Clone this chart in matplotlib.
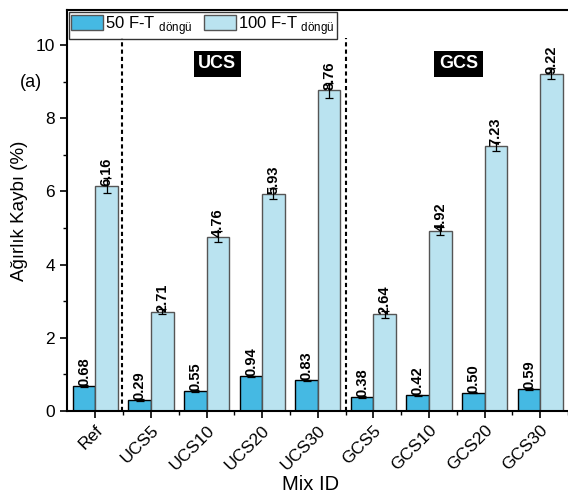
import matplotlib
matplotlib.use('Agg')
import matplotlib.pyplot as plt
import numpy as np
from matplotlib.ticker import MultipleLocator
from matplotlib.patches import Patch

plt.rcParams['font.family'] = ['Liberation Sans', 'DejaVu Sans']
plt.rcParams['mathtext.fontset'] = 'custom'
plt.rcParams['mathtext.rm'] = 'Liberation Sans'

mixes = ['Ref', 'UCS5', 'UCS10', 'UCS20', 'UCS30', 'GCS5', 'GCS10', 'GCS20', 'GCS30']
loss_50 = [0.68, 0.29, 0.55, 0.94, 0.83, 0.38, 0.42, 0.50, 0.59]
err_50 = [0.03, 0.02, 0.03, 0.02, 0.02, 0.02, 0.02, 0.02, 0.03]
loss_100 = [6.16, 2.71, 4.76, 5.93, 8.76, 2.64, 4.92, 7.23, 9.22]
err_100 = [0.20, 0.07, 0.15, 0.15, 0.20, 0.10, 0.10, 0.12, 0.15]

dark = '#45b9e3'
light = '#bae3f0'

fig = plt.figure(figsize=(5.68, 5.01), dpi=100)
ax = fig.add_axes([0.118, 0.18, 0.882, 0.80])

x = np.arange(len(mixes))
w = 0.405
ax.bar(x - w / 2, loss_50, w, color=dark, edgecolor='black', linewidth=1.0,
       yerr=err_50, error_kw=dict(ecolor='black', elinewidth=0.9, capsize=3, capthick=0.9))
ax.bar(x + w / 2, loss_100, w, color=light, edgecolor='#555555', linewidth=1.0,
       yerr=err_100, error_kw=dict(ecolor='black', elinewidth=0.9, capsize=3, capthick=0.9))

for xi, v in zip(x, loss_50):
    ax.text(xi - w / 2, v, f'{v:.2f}', rotation=90, ha='center', va='bottom',
            fontsize=10.5, fontweight='bold')
for xi, v in zip(x, loss_100):
    ax.text(xi + w / 2, v, f'{v:.2f}', rotation=90, ha='center', va='bottom',
            fontsize=10.5, fontweight='bold')

# group separators
for xs in (0.48, 4.5):
    ax.axvline(xs, ymin=0, ymax=0.93, color='black', linestyle=(0, (2, 1.5)), linewidth=1.5)

for xt, name in ((2.19, 'UCS'), (6.53, 'GCS')):
    ax.text(xt, 9.49, name, color='white', fontsize=13, fontweight='bold', ha='center', va='center',
            bbox=dict(facecolor='black', edgecolor='none', boxstyle='square,pad=0.25'))

ax.text(-0.05, 0.82, '(a)', transform=ax.transAxes, fontsize=13, ha='right', va='center')

ax.set_xlim(-0.51, 8.36)
ax.set_ylim(0, 10.96)
ax.yaxis.set_major_locator(MultipleLocator(2))
ax.yaxis.set_minor_locator(MultipleLocator(1))
ax.set_xticks(x)
ax.set_xticks(x + 0.5, minor=True)
ax.set_xticklabels(mixes, rotation=45, ha='right', rotation_mode='anchor', fontsize=12.5)
ax.tick_params(axis='y', labelsize=12.5)
ax.tick_params(which='major', direction='out', length=5, width=1.2)
ax.tick_params(which='minor', direction='out', length=3, width=1.0)

for s in ('left', 'bottom', 'top'):
    ax.spines[s].set_linewidth(1.5)
ax.spines['right'].set_visible(False)

ax.set_ylabel('Ağırlık Kaybı (%)', fontsize=13.5, labelpad=6)
ax.set_xlabel('Mix ID', fontsize=14.5)
ax.xaxis.set_label_coords(0.487, -0.16)

handles = [Patch(facecolor=dark, edgecolor='#555555'), Patch(facecolor=light, edgecolor='#555555')]
labels = [r'50 F-T $_{\mathrm{döngü}}$', r'100 F-T $_{\mathrm{döngü}}$']
leg = ax.legend(handles, labels, ncol=2, loc='upper left', bbox_to_anchor=(0.0, 1.0),
                frameon=True, fancybox=False, edgecolor='black', fontsize=12,
                handlelength=1.95, handleheight=1.0, handletextpad=0.1, columnspacing=0.7,
                borderpad=0.12, borderaxespad=0.1)
leg.get_frame().set_linewidth(1.0)

fig.savefig('out.png', dpi=100)
